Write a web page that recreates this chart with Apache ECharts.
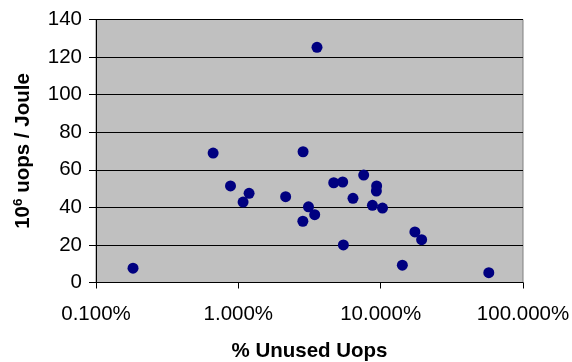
<!DOCTYPE html>
<html><head><meta charset="utf-8">
<script src="https://cdn.jsdelivr.net/npm/echarts@6/dist/echarts.min.js"></script>
<style>html,body{margin:0;padding:0;background:#fff}#c{width:572px;height:362px}</style>
</head><body><div id="c"></div>
<script>
// % unused uops (x, log scale) and 10^6 uops / Joule (y)
var unusedPct = [0.182, 0.665, 0.881, 1.08, 1.19, 2.15, 2.85, 2.84, 3.11, 3.44, 3.57, 4.68, 5.41, 5.47, 6.39, 7.60, 9.37, 9.33, 8.75, 10.3, 14.2, 17.4, 19.4, 57.5];
var uopsPerJoule = [7.6, 68.9, 51.4, 42.8, 47.5, 45.7, 69.6, 32.6, 40.3, 36.1, 125.2, 53.1, 53.5, 20.0, 44.8, 57.2, 51.4, 48.7, 41.1, 39.6, 9.2, 26.9, 22.8, 5.2];
var yTicks = [0, 20, 40, 60, 80, 100, 120, 140];
var xTickLabels = ['0.100%', '1.000%', '10.000%', '100.000%'];

var points = unusedPct.map(function (x, i) { return [x, uopsPerJoule[i]]; });
var FONT = 'Liberation Sans, Arial, sans-serif';
var chart = echarts.init(document.getElementById('c'), null, {renderer: 'canvas'});
chart.setOption({
  animation: false,
  backgroundColor: '#ffffff',
  grid: {left: 96, right: 49, top: 19.5, bottom: 79.5, outerBoundsMode: 'none', containLabel: false,
    show: true, backgroundColor: '#c0c0c0', borderColor: '#808080', borderWidth: 1},
  xAxis: {
    type: 'log', logBase: 10, min: 0.1, max: 100,
    name: '% Unused Uops', nameLocation: 'middle', nameGap: 58,
    nameTextStyle: {fontFamily: FONT, fontSize: 20.5, fontWeight: 'bold', color: '#000'},
    axisLine: {show: true, lineStyle: {color: '#000', width: 1}},
    axisTick: {show: true, length: 6, lineStyle: {color: '#000'}},
    minorTick: {show: false},
    splitLine: {show: false},
    axisLabel: {fontFamily: FONT, fontSize: 20.5, color: '#000', margin: 21,
      formatter: function (v) { var k = Math.round(Math.log10(v)) + 1; return xTickLabels[k] !== undefined ? xTickLabels[k] : v.toFixed(3) + '%'; }}
  },
  yAxis: {
    type: 'value', min: 0, max: 140, interval: 20,
    name: '{a|10}{s|6}{a| uops / Joule}', nameLocation: 'middle', nameGap: 61, nameRotate: 90,
    nameTextStyle: {fontFamily: FONT, fontSize: 20.5, fontWeight: 'bold', color: '#000',
      rich: {a: {fontFamily: FONT, fontSize: 20.5, fontWeight: 'bold', color: '#000', lineHeight: 24},
             s: {fontFamily: FONT, fontSize: 13.5, fontWeight: 'bold', color: '#000', verticalAlign: 'top', lineHeight: 24, padding: [0, 0, 9, 0]}}},
    axisLine: {show: true, lineStyle: {color: '#000', width: 1}},
    axisTick: {show: true, length: 7, lineStyle: {color: '#000'}},
    splitLine: {show: true, lineStyle: {color: '#000', width: 1}},
    axisLabel: {fontFamily: FONT, fontSize: 20.5, color: '#000', margin: 14,
      formatter: function (v) { return yTicks.indexOf(v) >= 0 ? String(v) : ''; }}
  },
  series: [{
    type: 'scatter', data: points, symbol: 'circle', symbolSize: 11,
    itemStyle: {color: '#000080', opacity: 1}
  }]
});
</script></body></html>
